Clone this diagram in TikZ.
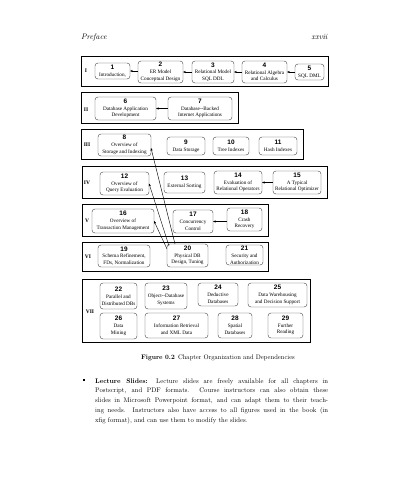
\documentclass[tikz,border=0pt]{standalone}
\usepackage{fontspec}
\newfontfamily\boxfont{Liberation Serif}
\newfontfamily\numfont{Liberation Sans}
\newfontfamily\bodyfont{lmroman10}[Extension=.otf, UprightFont=*-regular, BoldFont=*-bold, ItalicFont=*-italic]
\usetikzlibrary{arrows.meta}
\newcommand{\chapnum}[1]{{\numfont\bfseries\fontsize{6.5}{6.8}\selectfont #1}}

\begin{document}
\begin{tikzpicture}[x=1bp, y=-1bp,
    chapbox/.style={rectangle, draw=black!75, line width=0.4bp, rounded corners=3bp, align=center, inner sep=0.5bp, outer sep=0pt, font=\boxfont\fontsize{5.2}{6.8}\selectfont},
    grpbox/.style={rectangle, draw=black, line width=1bp, inner sep=0pt, outer sep=0pt},
    grplabel/.style={font=\boxfont\bfseries\fontsize{5.5}{6}\selectfont, inner sep=0pt},
    dep/.style={-{Stealth[length=2.8bp, width=2.2bp]}, line width=0.4bp}]
  \fill[white] (0,0) rectangle (408,480);
  \useasboundingbox (0,0) rectangle (408,480);

  % page head
  \node[anchor=base west, inner sep=0pt, font=\bodyfont\fontsize{8}{9}\selectfont] (head) at (81,40) {\textit{Preface}};
  \node[anchor=base east, inner sep=0pt, font=\bodyfont\fontsize{8}{9}\selectfont] (folio) at (328,40) {\textit{xxvii}};

  % groups
  \node[grpbox, minimum width=247bp, minimum height=30bp] (g1) at (204.5,72) {};
  \node[grpbox, minimum width=157bp, minimum height=31bp] (g2) at (159.5,108.5) {};
  \node[grpbox, minimum width=222bp, minimum height=30bp] (g3) at (192,145) {};
  \node[grpbox, minimum width=245bp, minimum height=31bp] (g4) at (204.5,182.5) {};
  \node[grpbox, minimum width=186bp, minimum height=32bp] (g5) at (175,220) {};
  \node[grpbox, minimum width=186bp, minimum height=29bp] (g6) at (175,256.5) {};
  \node[grpbox, minimum width=228bp, minimum height=63bp] (g7) at (196,310.5) {};

  \node[grplabel] (l1) at (86,71) {I};
  \node[grplabel] (l2) at (86,110) {II};
  \node[grplabel] (l3) at (87,145) {III};
  \node[grplabel] (l4) at (87,183) {IV};
  \node[grplabel] (l5) at (87,221) {V};
  \node[grplabel] (l6) at (88,257) {VI};
  \node[grplabel] (l7) at (90,312) {VII};

  % chapters
  \node[chapbox, minimum width=35bp, minimum height=16bp] (c1) at (112.5,71) {\chapnum{1}\\Introduction,};
  \node[chapbox, minimum width=45bp, minimum height=22bp] (c2) at (160.5,72) {\chapnum{2}\\ER Model\\Conceptual Design};
  \node[chapbox, minimum width=42bp, minimum height=22bp] (c3) at (213,72) {\chapnum{3}\\Relational Model\\SQL DDL};
  \node[chapbox, minimum width=45bp, minimum height=22bp] (c4) at (264.5,72) {\chapnum{4}\\Relational Algebra\\and Calculus};
  \node[chapbox, minimum width=29bp, minimum height=16bp] (c5) at (309.5,72) {\chapnum{5}\\SQL DML};

  \node[chapbox, minimum width=61bp, minimum height=23bp] (c6) at (125.5,108.5) {\chapnum{6}\\Database Application\\Development};
  \node[chapbox, minimum width=64bp, minimum height=23bp] (c7) at (200,108.5) {\chapnum{7}\\Database--Backed\\Internet Applications};

  \node[chapbox, minimum width=53bp, minimum height=22bp] (c8) at (124.5,145) {\chapnum{8}\\Overview of\\Storage and Indexing};
  \node[chapbox, minimum width=38bp, minimum height=18bp] (c9) at (186,146) {\chapnum{9}\\Data Storage};
  \node[chapbox, minimum width=36bp, minimum height=18bp] (c10) at (231,146) {\chapnum{10}\\Tree Indexes};
  \node[chapbox, minimum width=38bp, minimum height=18bp] (c11) at (278,146) {\chapnum{11}\\Hash Indexes};

  \node[chapbox, minimum width=49bp, minimum height=23bp] (c12) at (124.5,183.5) {\chapnum{12}\\Overview of\\Query Evaluation};
  \node[chapbox, minimum width=41bp, minimum height=21bp] (c13) at (184.5,182.5) {\chapnum{13}\\External Sorting};
  \node[chapbox, minimum width=48bp, minimum height=23bp] (c14) at (238,182.5) {\chapnum{14}\\Evaluation of\\Relational Operators};
  \node[chapbox, minimum width=48bp, minimum height=23bp] (c15) at (297,182.5) {\chapnum{15}\\A Typical\\Relational Optimizer};

  \node[chapbox, minimum width=62bp, minimum height=24bp] (c16) at (123,221) {\chapnum{16}\\Overview of\\Transaction Management};
  \node[chapbox, minimum width=40bp, minimum height=23bp] (c17) at (193,221.5) {\chapnum{17}\\Concurrency\\Control};
  \node[chapbox, minimum width=35bp, minimum height=23bp] (c18) at (244.5,219.5) {\chapnum{18}\\Crash\\Recovery};

  \node[chapbox, minimum width=52bp, minimum height=22bp] (c19) at (124,256) {\chapnum{19}\\Schema Refinement,\\FDs, Normalization};
  \node[chapbox, minimum width=41bp, minimum height=23bp] (c20) at (187.5,255.5) {\chapnum{20}\\Physical DB\\Design, Tuning};
  \node[chapbox, minimum width=37bp, minimum height=20bp] (c21) at (244.5,255) {\chapnum{21}\\Security and\\Authorization};

  \node[chapbox, minimum width=37bp, minimum height=26bp] (c22) at (118.5,296) {\chapnum{22}\\Parallel and\\Distributed DBs};
  \node[chapbox, minimum width=42bp, minimum height=26bp] (c23) at (166,296) {\chapnum{23}\\Object--Database\\Systems};
  \node[chapbox, minimum width=40bp, minimum height=23bp] (c24) at (218,294.5) {\chapnum{24}\\Deductive\\Databases};
  \node[chapbox, minimum width=59bp, minimum height=24bp] (c25) at (277.5,295) {\chapnum{25}\\Data Warehousing\\and Decision Support};
  \node[chapbox, minimum width=37bp, minimum height=26bp] (c26) at (118.5,326) {\chapnum{26}\\Data\\Mining};
  \node[chapbox, minimum width=63bp, minimum height=25bp] (c27) at (176.5,325.5) {\chapnum{27}\\Information Retrieval\\and XML Data};
  \node[chapbox, minimum width=34bp, minimum height=25bp] (c28) at (235,325.5) {\chapnum{28}\\Spatial\\Databases};
  \node[chapbox, minimum width=35bp, minimum height=25bp] (c29) at (285.5,325.5) {\chapnum{29}\\Further\\Reading};

  % dependencies
  \draw[dep] (c2.west |- c1.east) -- (c1.east);
  \draw[dep] (c3.west) -- (c2.east);
  \draw[dep] (c4.west) -- (c3.east);
  \draw[dep] (c5.west) -- (c4.east |- c5.west);
  \draw[dep] (c7.west) -- (c6.east);
  \draw[dep] (c15.west) -- (c14.east);
  \draw[dep] (c18.west |- c17.east) -- (c17.east);
  \draw[dep] ([xshift=8bp]c20.north west) -- ([yshift=-3bp]c8.east);
  \draw[dep] ([xshift=2bp, yshift=-2bp]c20.north west) -- (c12.east);
  \draw[dep] ([yshift=-5bp]c20.north west) -- (c16.east);

  % caption and text
  \node[inner sep=0pt, font=\bodyfont\fontsize{6.6}{7}\selectfont] (caption) at (218,358) {\textbf{Figure 0.2}\enspace Chapter Organization and Dependencies};
  \node[inner sep=0pt] (bullet) at (84,380) {\rule{2.4bp}{2.4bp}};
  \node[anchor=base west, inner sep=0pt, text width=233bp, align=justify, font=\bodyfont\fontsize{6.7}{9.8}\selectfont] (slides) at (95,383)
    {\textbf{Lecture Slides:} Lecture slides are freely available for all chapters in\linebreak
     Postscript, and PDF formats. Course instructors can also obtain these\linebreak
     slides in Microsoft Powerpoint format, and can adapt them to their teach-\linebreak
     ing needs. Instructors also have access to all figures used in the book (in\linebreak
     xfig format), and can use them to modify the slides.};
\end{tikzpicture}
\end{document}
